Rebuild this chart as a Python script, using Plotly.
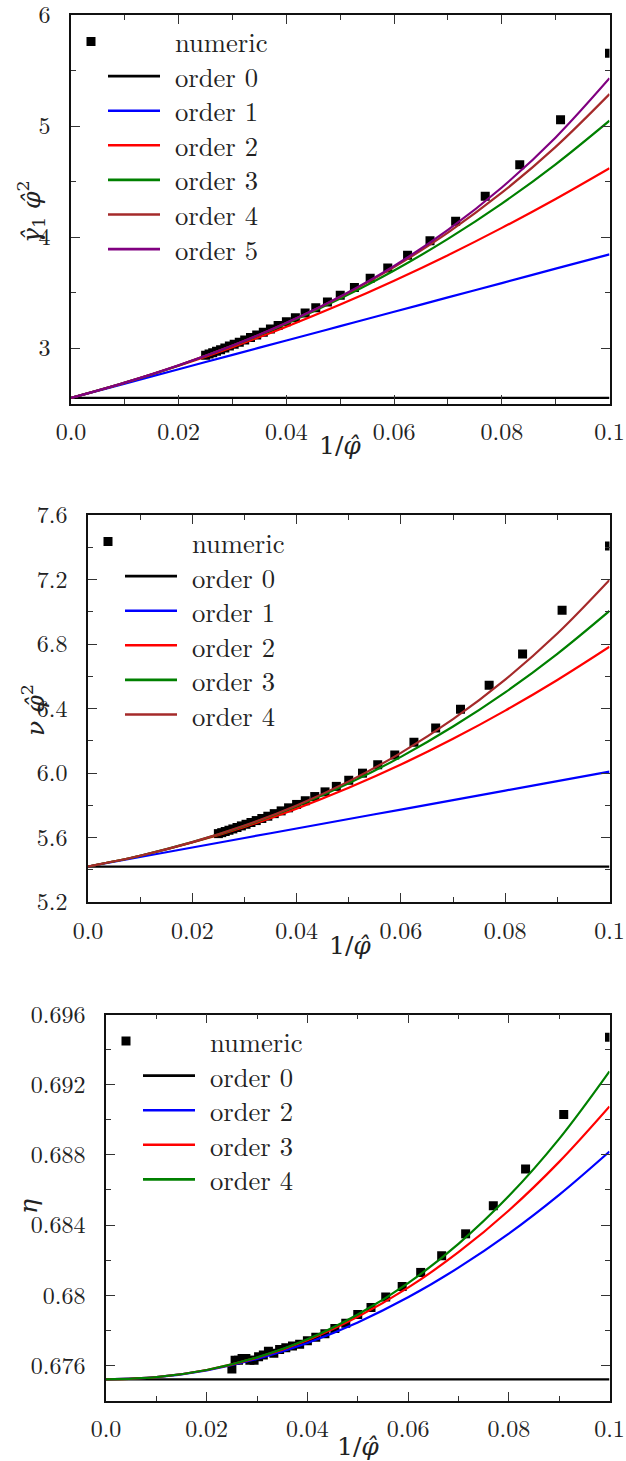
import plotly.graph_objects as go

W, H = 626, 1461

# ---- numeric data: x = 1/phi for phi = 10 ... 40 ----
phi = [10, 11, 12, 13, 14, 15, 16, 17, 18, 19, 20, 21, 22, 23, 24, 25,
       26, 27, 28, 29, 30, 31, 32, 33, 34, 35, 36, 37, 38, 39, 40]
inv_phi = [1.0 / p for p in phi]

gamma_numeric = [5.656, 5.057, 4.652, 4.367, 4.143, 3.967, 3.835, 3.720, 3.628, 3.545,
                 3.475, 3.415, 3.362, 3.315, 3.273, 3.236, 3.202, 3.171, 3.143, 3.118,
                 3.094, 3.072, 3.052, 3.034, 3.017, 3.000, 2.985, 2.971, 2.958, 2.945, 2.934]
nu_numeric = [7.408, 7.009, 6.738, 6.544, 6.396, 6.279, 6.191, 6.112, 6.051, 5.999,
              5.955, 5.917, 5.883, 5.854, 5.828, 5.805, 5.784, 5.765, 5.748, 5.732,
              5.718, 5.705, 5.693, 5.682, 5.672, 5.662, 5.653, 5.645, 5.637, 5.630, 5.624]
eta_numeric = [0.6947, 0.6903, 0.6872, 0.6851, 0.6835, 0.68225, 0.6813, 0.6805, 0.6799, 0.6793,
               0.6789, 0.6784, 0.6781, 0.6778, 0.6776, 0.6774, 0.6772, 0.6771, 0.6770, 0.6769,
               0.6767, 0.6768, 0.6766, 0.6765, 0.6763, 0.6763, 0.6764, 0.6764, 0.6763, 0.6763, 0.6758]

# ---- expansion curves sampled on a grid of 1/phi ----
x_grid = [0.0, 0.01, 0.02, 0.03, 0.04, 0.05, 0.06, 0.07, 0.08, 0.09, 0.1]

gamma_order0 = [2.55, 2.55, 2.55, 2.55, 2.55, 2.55, 2.55, 2.55, 2.55, 2.55, 2.55]
gamma_order1 = [2.55, 2.679, 2.809, 2.938, 3.068, 3.197, 3.326, 3.456, 3.585, 3.715, 3.844]
gamma_order2 = [2.55, 2.687, 2.840, 3.008, 3.192, 3.391, 3.606, 3.836, 4.082, 4.343, 4.620]
gamma_order3 = [2.55, 2.688, 2.843, 3.020, 3.219, 3.445, 3.698, 3.983, 4.301, 4.655, 5.048]
gamma_order4 = [2.55, 2.688, 2.844, 3.022, 3.225, 3.460, 3.729, 4.040, 4.399, 4.812, 5.287]
gamma_order5 = [2.55, 2.688, 2.844, 3.022, 3.227, 3.464, 3.740, 4.064, 4.446, 4.897, 5.430]

nu_order0 = [5.42, 5.42, 5.42, 5.42, 5.42, 5.42, 5.42, 5.42, 5.42, 5.42, 5.42]
nu_order1 = [5.42, 5.479, 5.538, 5.597, 5.656, 5.715, 5.773, 5.832, 5.891, 5.950, 6.009]
nu_order2 = [5.42, 5.487, 5.569, 5.666, 5.779, 5.908, 6.052, 6.212, 6.387, 6.577, 6.783]
nu_order3 = [5.42, 5.487, 5.571, 5.672, 5.794, 5.936, 6.100, 6.288, 6.500, 6.739, 7.005]
nu_order4 = [5.42, 5.487, 5.571, 5.674, 5.799, 5.948, 6.125, 6.334, 6.579, 6.865, 7.197]

eta_order0 = [0.6752, 0.6752, 0.6752, 0.6752, 0.6752, 0.6752, 0.6752, 0.6752, 0.6752, 0.6752, 0.6752]
eta_order2 = [0.6752, 0.67533, 0.67572, 0.67637, 0.67728, 0.67845, 0.67988, 0.68157, 0.68351, 0.68572, 0.68819]
eta_order3 = [0.6752, 0.67533, 0.67574, 0.67644, 0.67744, 0.67877, 0.68043, 0.68245, 0.68483, 0.68760, 0.69076]
eta_order4 = [0.6752, 0.67533, 0.67574, 0.67646, 0.67749, 0.67890, 0.68069, 0.68293, 0.68565, 0.68891, 0.69276]

# ---- ticks ----
x_ticks = [0.0, 0.02, 0.04, 0.06, 0.08, 0.1]
x_ticktext = ["0.0", "0.02", "0.04", "0.06", "0.08", "0.1"]
x_minor = [0.01, 0.03, 0.05, 0.07, 0.09]

gamma_ticks = [3, 4, 5, 6]
gamma_ticktext = ["3", "4", "5", "6"]
gamma_minor = [2.5, 3.5, 4.5, 5.5]

nu_ticks = [5.2, 5.6, 6.0, 6.4, 6.8, 7.2, 7.6]
nu_ticktext = ["5.2", "5.6", "6.0", "6.4", "6.8", "7.2", "7.6"]
nu_minor = [5.4, 5.8, 6.2, 6.6, 7.0, 7.4]

eta_ticks = [0.676, 0.68, 0.684, 0.688, 0.692, 0.696]
eta_ticktext = ["0.676", "0.68", "0.684", "0.688", "0.692", "0.696"]
eta_minor = [0.674, 0.678, 0.682, 0.686, 0.690, 0.694]

COLORS = {"order 0": "#000000", "order 1": "#0000ff", "order 2": "#ff0000",
          "order 3": "#008000", "order 4": "#a52a2a", "order 5": "#800080"}

TEXT_FONT = "Latin Modern Roman"
MATH_FONT = "DejaVu Serif"
TEXT = "#222222"


def px_x(p):
    return p / W


def px_y(p):
    return 1 - p / H


panels = [
    dict(left=71, top=15, bottom=403.5, yrange=[2.5, 6.0],
         yt=gamma_ticks, ytt=gamma_ticktext, ym=gamma_minor, numeric=gamma_numeric,
         curves=[("order 0", gamma_order0, COLORS["order 0"]),
                 ("order 1", gamma_order1, COLORS["order 1"]),
                 ("order 2", gamma_order2, COLORS["order 2"]),
                 ("order 3", gamma_order3, COLORS["order 3"]),
                 ("order 4", gamma_order4, COLORS["order 4"]),
                 ("order 5", gamma_order5, COLORS["order 5"])],
         ytitle="<i>γ̂</i><sub>1</sub> <i>φ̂</i><sup>2</sup>", ytitle_pos=(31, 212),
         xtitle_pos=(340, 445)),
    dict(left=88, top=515, bottom=902, yrange=[5.2, 7.6],
         yt=nu_ticks, ytt=nu_ticktext, ym=nu_minor, numeric=nu_numeric,
         curves=[("order 0", nu_order0, COLORS["order 0"]),
                 ("order 1", nu_order1, COLORS["order 1"]),
                 ("order 2", nu_order2, COLORS["order 2"]),
                 ("order 3", nu_order3, COLORS["order 3"]),
                 ("order 4", nu_order4, COLORS["order 4"])],
         ytitle="<i>ν</i> <i>φ̂</i><sup>2</sup>", ytitle_pos=(33, 710),
         xtitle_pos=(350, 945)),
    dict(left=106, top=1014.5, bottom=1400.5, yrange=[0.674, 0.696],
         yt=eta_ticks, ytt=eta_ticktext, ym=eta_minor, numeric=eta_numeric,
         curves=[("order 0", eta_order0, "#000000"),
                 ("order 2", eta_order2, "#0000ff"),
                 ("order 3", eta_order3, "#ff0000"),
                 ("order 4", eta_order4, "#008000")],
         ytitle="<i>η</i>", ytitle_pos=(28, 1207),
         xtitle_pos=(358, 1446)),
]

RIGHT = 609.5
ROW = 34.6                 # legend row pitch in px
LEG_SIZE = ROW / 1.3       # plotly puts 1.3 em between lines of one text block

fig = go.Figure()
layout = dict(width=W, height=H, margin=dict(l=0, r=0, t=0, b=0, pad=0),
              paper_bgcolor="white", plot_bgcolor="white", showlegend=False,
              font=dict(family=TEXT_FONT, color=TEXT))
shapes = []
annotations = []

axis_common = dict(showgrid=False, zeroline=False, showline=True, linecolor="#111111",
                   linewidth=1.6, mirror="ticks", ticks="inside", ticklen=9, tickwidth=1.4,
                   tickcolor="#333333", automargin=False, ticklabeloverflow="allow",
                   tickfont=dict(family=TEXT_FONT, size=24, color=TEXT))

for i, p in enumerate(panels, start=1):
    xa = "x" if i == 1 else f"x{i}"
    ya = "y" if i == 1 else f"y{i}"
    xkey = "xaxis" if i == 1 else f"xaxis{i}"
    ykey = "yaxis" if i == 1 else f"yaxis{i}"

    # numeric results (drawn first, curves go on top)
    fig.add_trace(go.Scatter(x=inv_phi, y=p["numeric"], mode="markers", name="numeric",
                             marker=dict(symbol="square", size=9, color="black",
                                         line=dict(width=0)),
                             xaxis=xa, yaxis=ya))
    for name, vals, col in p["curves"]:
        fig.add_trace(go.Scatter(x=x_grid, y=vals, mode="lines", name=name,
                                 line=dict(color=col, width=2.2, shape="spline"),
                                 xaxis=xa, yaxis=ya))

    layout[xkey] = dict(axis_common, domain=[px_x(p["left"]), px_x(RIGHT)],
                        range=[0, 0.1], anchor=ya,
                        tickmode="array", tickvals=x_ticks, ticktext=x_ticktext,
                        ticklabelstandoff=6,
                        minor=dict(tickvals=x_minor, ticks="inside", ticklen=5,
                                   tickwidth=1.2, tickcolor="#333333"))
    layout[ykey] = dict(axis_common, domain=[px_y(p["bottom"]), px_y(p["top"])],
                        range=p["yrange"], anchor=xa,
                        tickmode="array", tickvals=p["yt"], ticktext=p["ytt"],
                        ticklabelstandoff=14,
                        minor=dict(tickvals=p["ym"], ticks="inside", ticklen=5,
                                   tickwidth=1.2, tickcolor="#333333"))

    # axis titles
    tx, ty = p["ytitle_pos"]
    annotations.append(dict(text=p["ytitle"], x=px_x(tx), y=px_y(ty), xref="paper", yref="paper",
                            showarrow=False, textangle=-90, xanchor="center", yanchor="middle",
                            font=dict(family=MATH_FONT, size=25, color=TEXT)))
    tx, ty = p["xtitle_pos"]
    annotations.append(dict(text="1/<i>φ̂</i>", x=px_x(tx), y=px_y(ty), xref="paper", yref="paper",
                            showarrow=False, xanchor="center", yanchor="middle",
                            font=dict(family=MATH_FONT, size=25, color=TEXT)))

    # legend inside the panel: marker / line samples plus one block of labels
    left, top = p["left"], p["top"]
    mx, my = left + 20, top + 26.5
    shapes.append(dict(type="rect", xref="paper", yref="paper",
                       x0=px_x(mx - 4.5), x1=px_x(mx + 4.5), y0=px_y(my + 4.5), y1=px_y(my - 4.5),
                       fillcolor="black", line=dict(width=0)))
    labels = ["numeric"]
    for k, (name, vals, col) in enumerate(p["curves"]):
        ly = my + ROW * (k + 1)
        shapes.append(dict(type="line", xref="paper", yref="paper",
                           x0=px_x(left + 37), x1=px_x(left + 89), y0=px_y(ly), y1=px_y(ly),
                           line=dict(color=col, width=2.6)))
        labels.append(name)
    block_mid = my + ROW * (len(labels) - 1) / 2
    annotations.append(dict(text="<br>".join(labels), x=px_x(left + 102), y=px_y(block_mid),
                            xref="paper", yref="paper", showarrow=False, align="left",
                            xanchor="left", yanchor="middle",
                            font=dict(family=TEXT_FONT, size=LEG_SIZE, color=TEXT)))

layout["shapes"] = shapes
layout["annotations"] = annotations
fig.update_layout(**layout)
fig.write_html("out.html")
